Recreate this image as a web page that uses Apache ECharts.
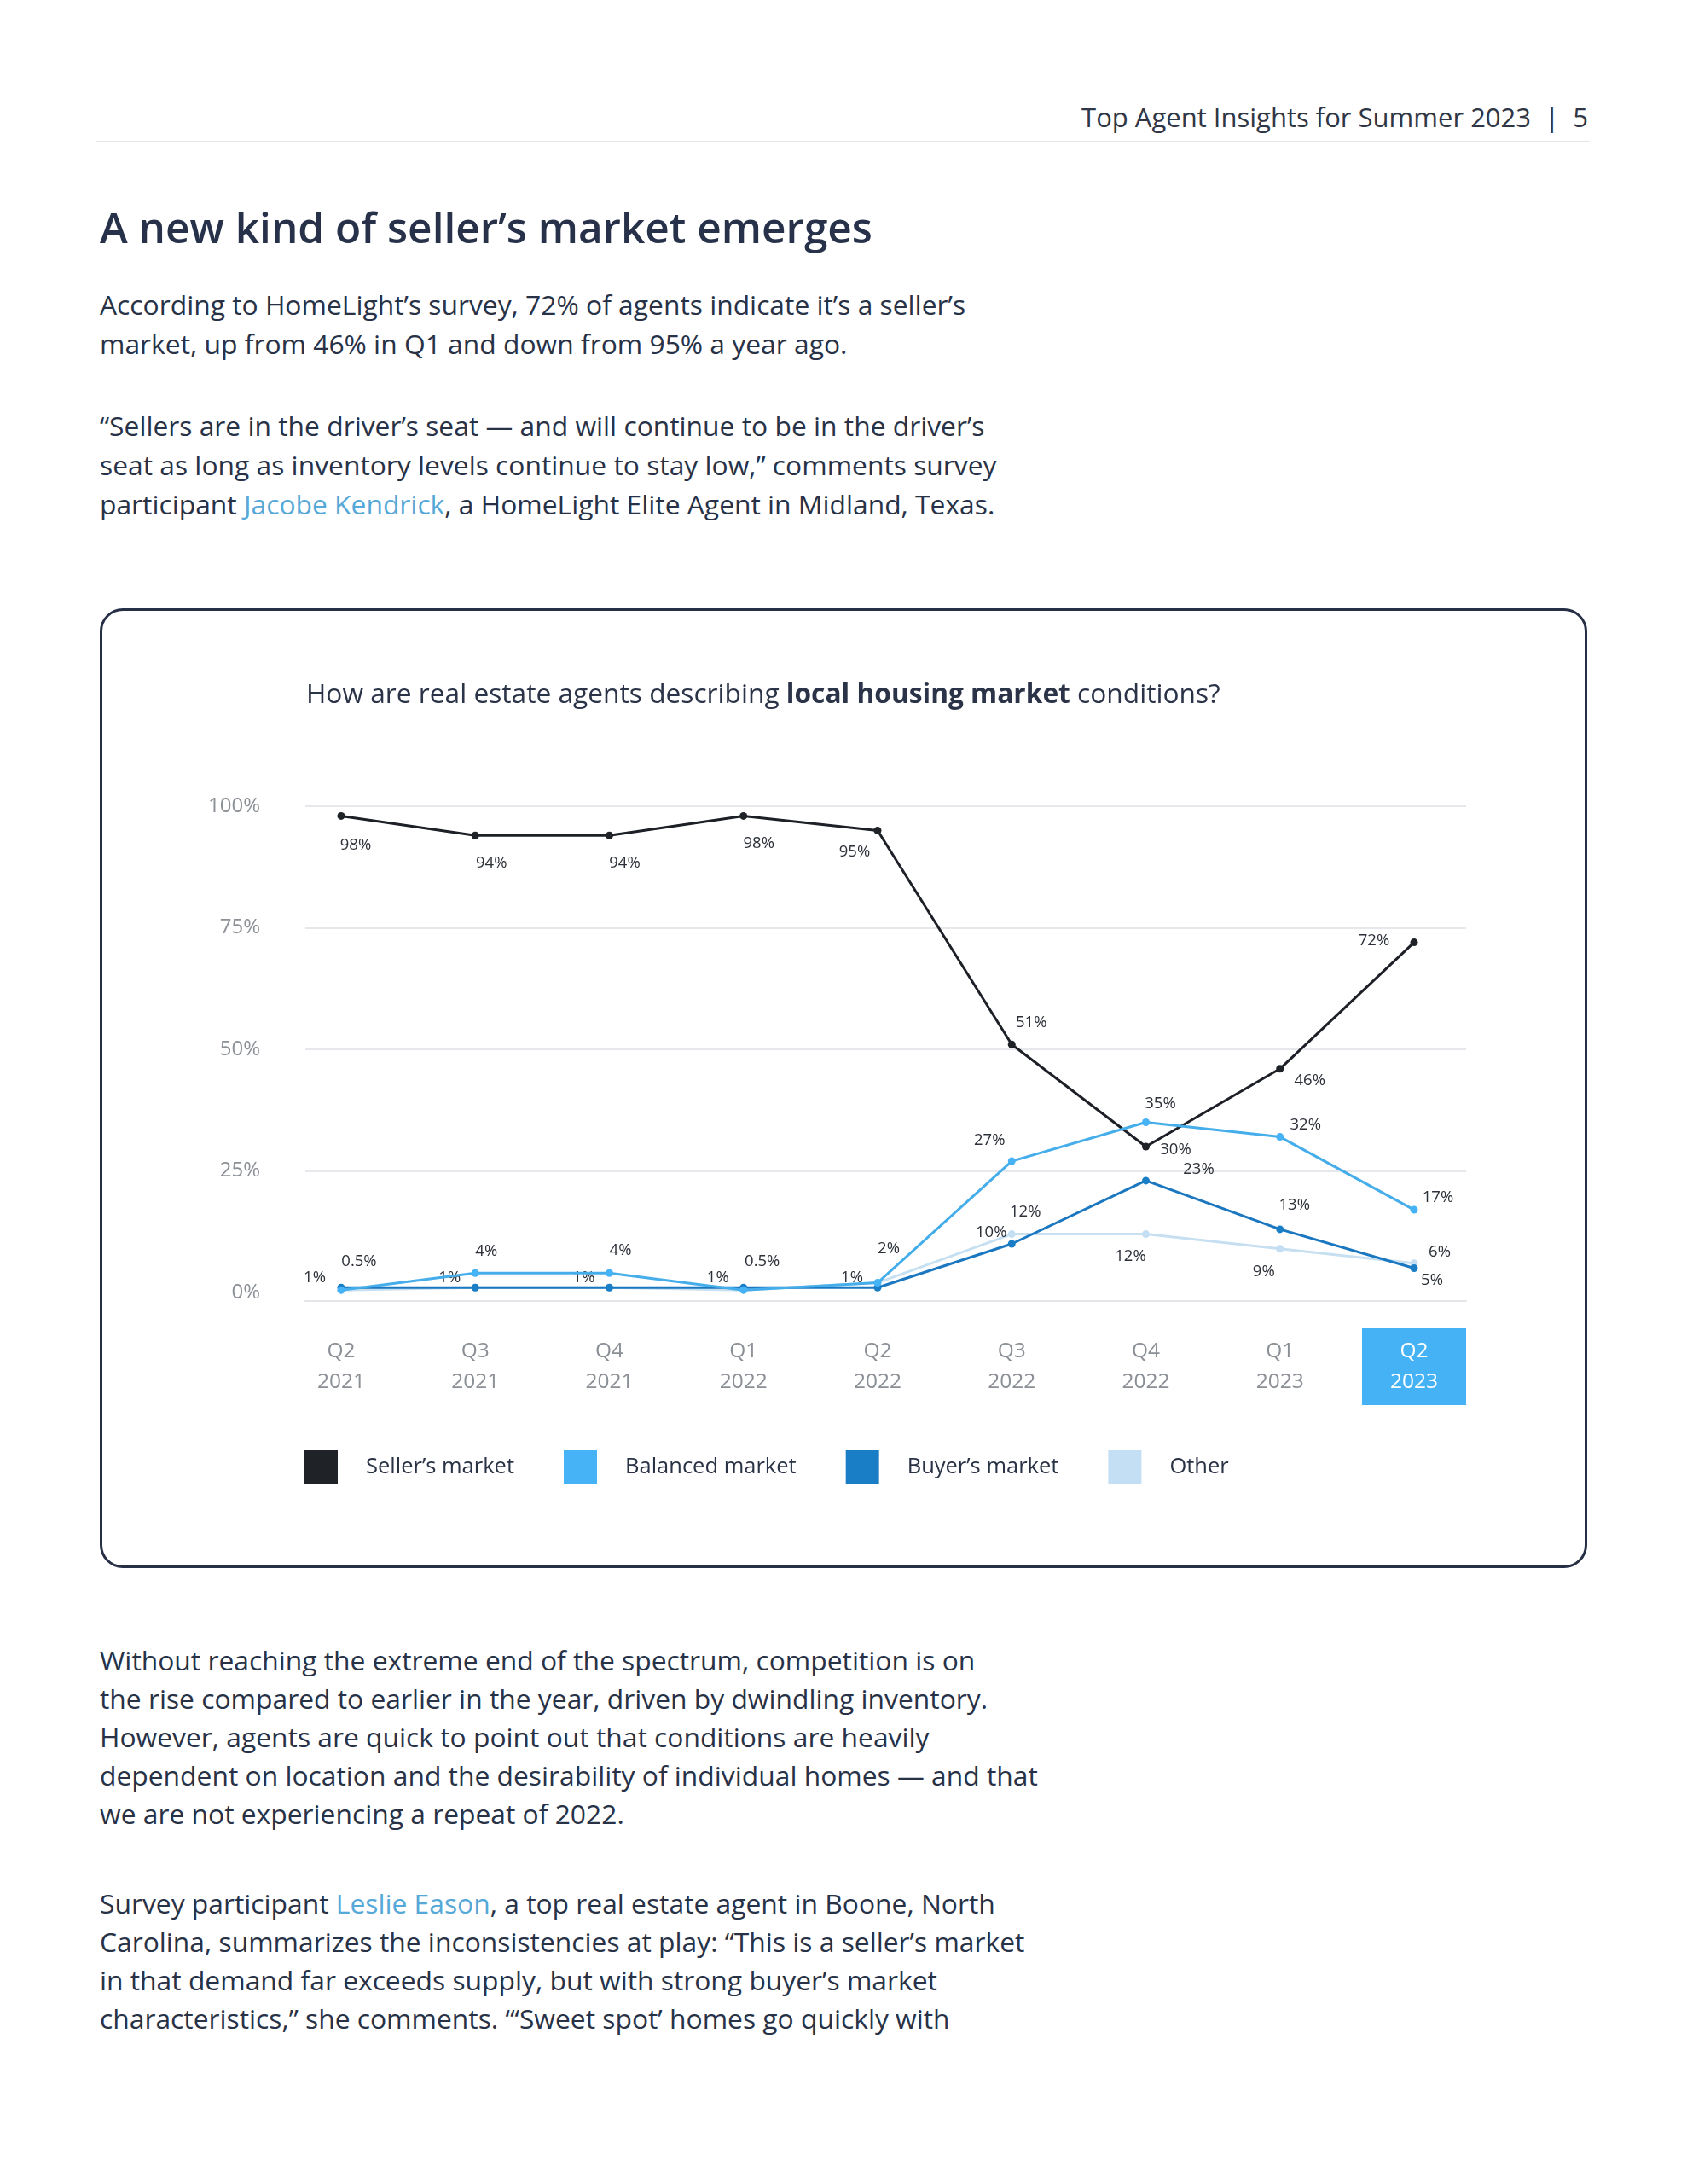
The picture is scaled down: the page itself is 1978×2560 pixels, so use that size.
<!DOCTYPE html>
<html>
<head>
<meta charset="utf-8">
<script src="https://cdn.jsdelivr.net/npm/echarts@6/dist/echarts.min.js"></script>
<style>
  html, body { margin:0; padding:0; background:#fff; }
  body { width:1978px; height:2560px; position:relative; font-family: "Open Sans", "Noto Sans", sans-serif; color:#283247; overflow:hidden; }
  .t { position:absolute; white-space:nowrap; }
  .p { font-size:31.8px; line-height:46px; left:117px; color:#283247; }
  a { color:#55a8d8; text-decoration:none; }
  #box { position:absolute; left:117px; top:713px; width:1744px; height:1125px; box-sizing:border-box; border:3.5px solid #262f45; border-radius:27px; }
  #chart { position:absolute; left:0; top:0; width:1978px; height:2560px; }
</style>
</head>
<body>
<div class="t" style="right:116px; top:117px; font-size:31px; line-height:40px; color:#2f3645;">Top Agent Insights for Summer 2023 &nbsp;|&nbsp; 5</div>
<div style="position:absolute; left:113px; top:165px; width:1751px; height:2px; background:#e4e6ea;"></div>
<div class="t" style="left:117px; top:236px; font-size:49.5px; line-height:60px; font-weight:600; color:#27324a;">A new kind of seller’s market emerges</div>
<div class="t p" style="top:334px;">According to HomeLight’s survey, 72% of agents indicate it’s a seller’s<br>market, up from 46% in Q1 and down from 95% a year ago.</div>
<div class="t p" style="top:476px;">“Sellers are in the driver’s seat — and will continue to be in the driver’s<br>seat as long as inventory levels continue to stay low,” comments survey<br>participant <a>Jacobe Kendrick</a>, a HomeLight Elite Agent in Midland, Texas.</div>
<div id="box"></div>
<div class="t p" style="top:1923px; line-height:45px;">Without reaching the extreme end of the spectrum, competition is on<br>the rise compared to earlier in the year, driven by dwindling inventory.<br>However, agents are quick to point out that conditions are heavily<br>dependent on location and the desirability of individual homes — and that<br>we are not experiencing a repeat of 2022.</div>
<div class="t p" style="top:2208px; line-height:45px;">Survey participant <a>Leslie Eason</a>, a top real estate agent in Boone, North<br>Carolina, summarizes the inconsistencies at play: “This is a seller’s market<br>in that demand far exceeds supply, but with strong buyer’s market<br>characteristics,” she comments. “‘Sweet spot’ homes go quickly with</div>
<div id="chart"></div>
<script>
// ---- data ----
const quarters = ['Q2','Q3','Q4','Q1','Q2','Q3','Q4','Q1','Q2'];
const years    = ['2021','2021','2021','2022','2022','2022','2022','2023','2023'];
const sellers  = [98, 94, 94, 98, 95, 51, 30, 46, 72];
const balanced = [0.5, 4, 4, 0.5, 2, 27, 35, 32, 17];
const buyers   = [1, 1, 1, 1, 1, 10, 23, 13, 5];
const other    = [0.5, 1, 1, 0.5, 2, 12, 12, 9, 6];
const yTicks   = [0, 25, 50, 75, 100];
const seriesNames = ["Seller’s market", "Balanced market", "Buyer’s market", "Other"];

// ---- label placement (styling) ----
const offSellers  = [[17,34],[19,33],[18,33],[18,32],[-27,25],[23,-26],[35,4],[35,14],[-47,-2]];
const offBalanced = [[21,-33],[13,-25],[13,-26],[22,-33],[13,-40],[-26,-24],[17,-22],[30,-14],[28,-14]];
const offBuyers   = [[-31,-12],[-30,-12],[-30,-12],[-30,-12],[-30,-12],[-24,-13],[62,-13],[17,-28],[21,14]];
const offOther    = [null,null,null,null,null,[16,-26],[-18,26],[-19,27],[30,-13]];

const FONT = 'Open Sans';
const categories = quarters.map((q, i) => q + '\n' + years[i]);
const xData = categories.map((c, i) => i === categories.length - 1
  ? { value: c, textStyle: { color: '#ffffff', backgroundColor: '#46b2f6', padding: [9, 33] } }
  : c);

function items(vals, offs) {
  return vals.map((v, i) => ({
    value: v,
    label: offs[i] ? { show: true, offset: offs[i] } : { show: false }
  }));
}
function lineSeries(name, vals, offs, itemColor, lineColor, z) {
  return {
    name, type: 'line', xAxisIndex: 1, yAxisIndex: 1, z,
    data: items(vals, offs),
    symbol: 'circle', symbolSize: 9,
    itemStyle: { color: itemColor },
    lineStyle: { color: lineColor, width: 3 },
    label: { show: true, position: 'inside', formatter: p => p.value + '%',
             color: '#2c3038', fontSize: 18.5, fontFamily: FONT },
    emphasis: { disabled: true }
  };
}

const chart = echarts.init(document.getElementById('chart'), null, { renderer: 'canvas' });
chart.setOption({
  animation: false,
  textStyle: { fontFamily: FONT },
  title: {
    left: 354, top: 790,
    text: '{n|How are real estate agents describing }{b|local housing market}{n| conditions?}',
    textStyle: { fontWeight: 'normal', rich: {
      n: { fontSize: 31.7, color: '#2a3347', fontFamily: FONT, fontWeight: 'normal', lineHeight: 40 },
      b: { fontSize: 31.7, color: '#2a3347', fontFamily: FONT, fontWeight: 'bold', lineHeight: 40 }
    } }
  },
  legend: {
    left: 352, top: 1695, itemWidth: 39, itemHeight: 39, itemGap: 58, icon: 'rect',
    selectedMode: false,
    textStyle: { fontSize: 25.5, color: '#2a3346', fontFamily: FONT, padding: [0, 0, 0, 28] },
    data: seriesNames
  },
  grid: [
    { left: 358, width: 1361, top: 945, height: 570 },
    { left: 400, width: 1258, top: 945, height: 570 }
  ],
  xAxis: [
    { gridIndex: 0, type: 'category', data: categories, offset: 10, position: 'bottom',
      axisLine: { show: true, onZero: false, lineStyle: { color: '#e3e5e8', width: 2 } },
      axisTick: { show: false }, axisLabel: { show: false }, splitLine: { show: false } },
    { gridIndex: 1, type: 'category', boundaryGap: false, data: xData,
      axisLine: { show: false }, axisTick: { show: false },
      axisLabel: { color: '#8b8f96', fontSize: 24.5, lineHeight: 36, fontFamily: FONT,
                   margin: 42, padding: [9, 0], interval: 0 } }
  ],
  yAxis: [
    { gridIndex: 0, type: 'value', min: yTicks[0], max: yTicks[yTicks.length - 1],
      interval: yTicks[1] - yTicks[0],
      axisLine: { show: false }, axisTick: { show: false },
      axisLabel: { formatter: '{value}%', color: '#8b8f96', fontSize: 24, margin: 53, fontFamily: FONT },
      splitLine: { show: true, showMinLine: false, lineStyle: { color: '#e6e8eb', width: 2 } } },
    { gridIndex: 1, type: 'value', min: yTicks[0], max: yTicks[yTicks.length - 1], show: false,
      splitLine: { show: false } }
  ],
  series: [
    lineSeries(seriesNames[3], other, offOther, '#c4dff4', '#c6e0f2', 1),
    lineSeries(seriesNames[2], buyers, offBuyers, '#1a7ec6', '#1b78c0', 3),
    lineSeries(seriesNames[0], sellers, offSellers, '#1f2328', '#1d2026', 4),
    lineSeries(seriesNames[1], balanced, offBalanced, '#46b3f7', '#45adea', 5)
  ]
});
</script>
</body>
</html>
